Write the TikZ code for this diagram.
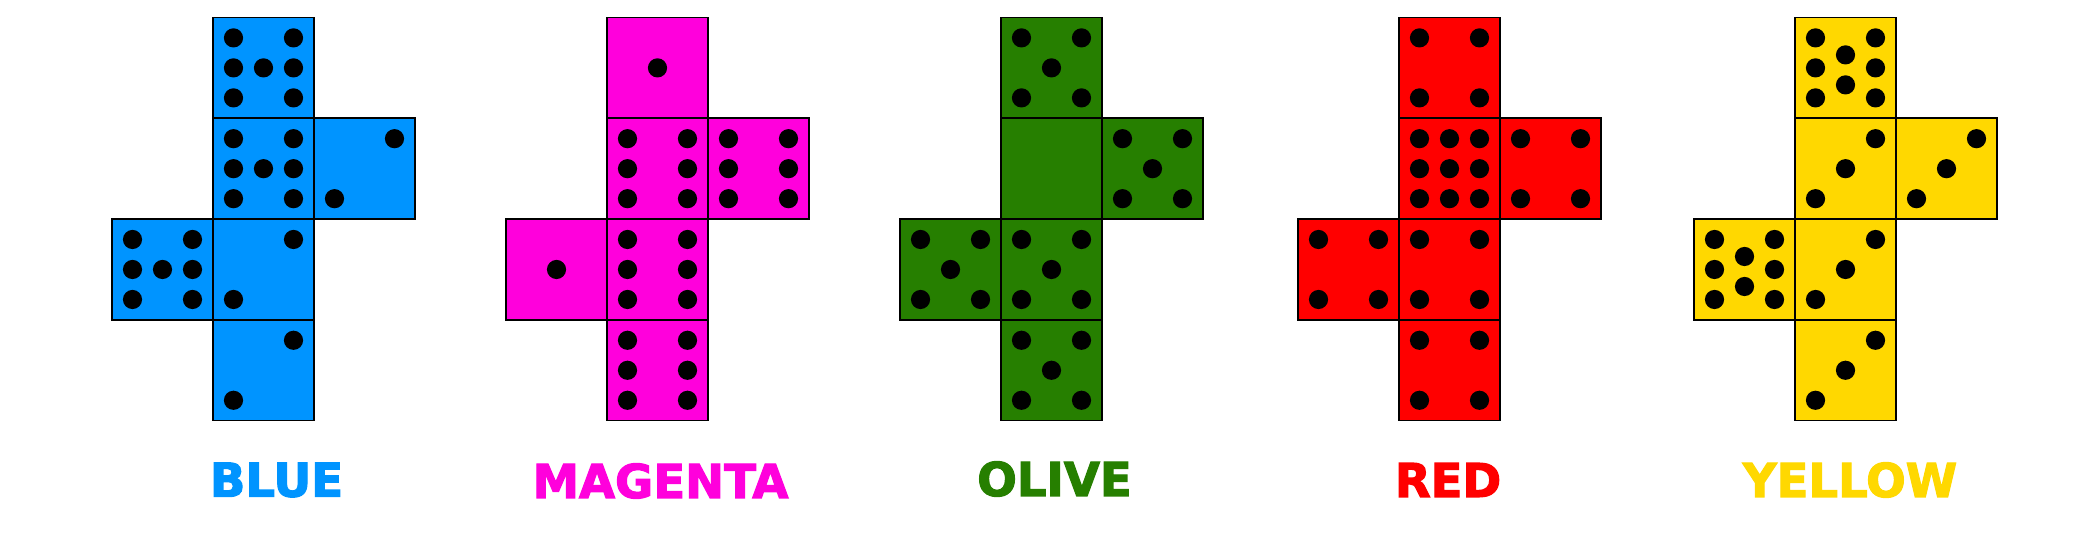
\documentclass[tikz,border=0pt]{standalone}
\usepackage{fontspec}
\newfontfamily\netfont{DejaVu Sans}[BoldFeatures={FakeBold=2.5}]
\usepackage{xcolor}
\usepackage{tikz}

\definecolor{netblue}{HTML}{0094FF}
\definecolor{netmagenta}{HTML}{FF00DC}
\definecolor{netolive}{HTML}{267F00}
\definecolor{netred}{HTML}{FF0000}
\definecolor{netyellow}{HTML}{FFD800}

\tikzset{
  face/.style={draw=black, line width=0.8pt},
  pip/.style={fill=black},
  netlabel/.style={inner sep=0pt, font={\netfont\bfseries\fontsize{23.3pt}{28pt}\selectfont}}
}

% pip offsets from the centre of a face
\newcommand{\pipsone}{0/0}
\newcommand{\pipstwo}{30/-30,-30/30}
\newcommand{\pipsthree}{30/-30,0/0,-30/30}
\newcommand{\pipsfour}{-30/-30,30/-30,-30/30,30/30}
\newcommand{\pipsfive}{-30/-30,30/-30,0/0,-30/30,30/30}
\newcommand{\pipssix}{-30/-30,30/-30,-30/0,30/0,-30/30,30/30}
\newcommand{\pipsseven}{-30/-30,30/-30,-30/0,0/0,30/0,-30/30,30/30}
\newcommand{\pipseight}{-30/-30,30/-30,-30/0,30/0,-30/30,30/30,0/-13,0/17}
\newcommand{\pipsnine}{-30/-30,0/-30,30/-30,-30/0,0/0,30/0,-30/30,0/30,30/30}

% corner x, corner y, colour, pips
\newcommand{\dieface}[4]{%
  \filldraw[face, fill=#3] (#1,#2) rectangle ++(101,100.8);
  \foreach \dx/\dy in #4 \fill[pip] (#1+50.5+\dx,#2+50.4+\dy) circle (4.8pt);
}

\begin{document}
\begin{tikzpicture}[x=0.5pt, y=-0.5pt]
    \useasboundingbox (0,0) rectangle (2100,533);

    % blue
    \dieface{213}{17.5}{netblue}{\pipsseven}
    \dieface{213}{118.3}{netblue}{\pipsseven}
    \dieface{314}{118.3}{netblue}{\pipstwo}
    \dieface{112}{219.1}{netblue}{\pipsseven}
    \dieface{213}{219.1}{netblue}{\pipstwo}
    \dieface{213}{319.9}{netblue}{\pipstwo}

    % magenta
    \dieface{607}{17.5}{netmagenta}{\pipsone}
    \dieface{607}{118.3}{netmagenta}{\pipssix}
    \dieface{708}{118.3}{netmagenta}{\pipssix}
    \dieface{506}{219.1}{netmagenta}{\pipsone}
    \dieface{607}{219.1}{netmagenta}{\pipssix}
    \dieface{607}{319.9}{netmagenta}{\pipssix}

    % olive
    \dieface{1001}{17.5}{netolive}{\pipsfive}
    \filldraw[face, fill=netolive] (1001,118.3) rectangle ++(101,100.8);
    \dieface{1102}{118.3}{netolive}{\pipsfive}
    \dieface{900}{219.1}{netolive}{\pipsfive}
    \dieface{1001}{219.1}{netolive}{\pipsfive}
    \dieface{1001}{319.9}{netolive}{\pipsfive}

    % red
    \dieface{1399}{17.5}{netred}{\pipsfour}
    \dieface{1399}{118.3}{netred}{\pipsnine}
    \dieface{1500}{118.3}{netred}{\pipsfour}
    \dieface{1298}{219.1}{netred}{\pipsfour}
    \dieface{1399}{219.1}{netred}{\pipsfour}
    \dieface{1399}{319.9}{netred}{\pipsfour}

    % yellow
    \dieface{1795}{17.5}{netyellow}{\pipseight}
    \dieface{1795}{118.3}{netyellow}{\pipsthree}
    \dieface{1896}{118.3}{netyellow}{\pipsthree}
    \dieface{1694}{219.1}{netyellow}{\pipseight}
    \dieface{1795}{219.1}{netyellow}{\pipsthree}
    \dieface{1795}{319.9}{netyellow}{\pipsthree}

    % labels
    \node[netlabel, text=netblue] (lblblue) at (276.5,480) {BLUE};
    \node[netlabel, text=netmagenta] (lblmagenta) at (660.5,481) {MAGENTA};
    \node[netlabel, text=netolive] (lblolive) at (1054.5,479) {OLIVE};
    \node[netlabel, text=netred] (lblred) at (1448,480) {RED};
    \node[netlabel, text=netyellow] (lblyellow) at (1850,480) {YELLOW};
\end{tikzpicture}
\end{document}
